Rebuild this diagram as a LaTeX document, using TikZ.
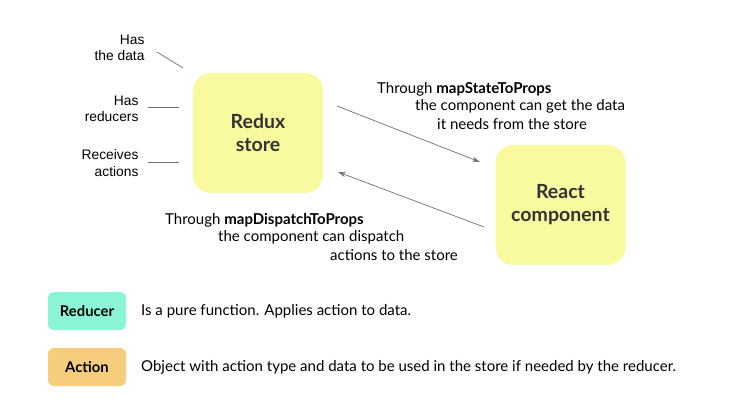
\documentclass[tikz,border=0pt]{standalone}
\usepackage{fontspec}
\setmainfont{Lato}
\newfontfamily\arialf{Liberation Sans}
\usetikzlibrary{arrows.meta}
\definecolor{storeyellow}{HTML}{F9F9A0}
\definecolor{mint}{HTML}{8CF4D6}
\definecolor{amber}{HTML}{F5CD7C}
\definecolor{txt}{HTML}{333333}
\definecolor{linegray}{HTML}{707070}
\tikzset{
  x=1pt, y=-1pt,
  bigbox/.style={fill=storeyellow, rounded corners=18pt, minimum width=130pt, minimum height=120pt, align=center, font=\fontsize{19.5}{23}\selectfont\bfseries, text=txt},
  legendbox/.style={rounded corners=6pt, minimum width=78pt, minimum height=38pt, font=\fontsize{14.8}{16}\selectfont\bfseries, text=black},
  sidelabel/.style={align=right, anchor=east, font=\arialf\fontsize{13.8}{16.5}\selectfont, text=black},
  note/.style={anchor=west, font=\fontsize{15}{17.5}\selectfont, text=black, inner sep=0pt},
  leglabel/.style={anchor=west, font=\fontsize{15}{16}\selectfont, text=black, inner sep=0pt},
  tick/.style={draw=linegray, line width=0.7pt},
  flow/.style={draw=linegray, line width=0.7pt, -{Stealth[length=8pt,width=5pt]}}
}
\begin{document}
\begin{tikzpicture}
\useasboundingbox (0,0) rectangle (738,411);
\fill[white] (0,0) rectangle (738,411);
\node[bigbox] (store) at (258,133) {Redux\\store};
\node[bigbox] (react) at (560.5,205) {React\\component};
% side labels
\node[sidelabel] (data) at (148,48) {Has\\the data};
\node[sidelabel] (red) at (142,109) {Has\\reducers};
\node[sidelabel] (act) at (142,163) {Receives\\actions};
\coordinate (d1) at (157,52); \coordinate (d2) at (183,68);
\coordinate (r1) at (148,107); \coordinate (r2) at (179,107);
\coordinate (a1) at (148,162); \coordinate (a2) at (179,162);
\draw[tick] (d1) -- (d2);
\draw[tick] (r1) -- (r2);
\draw[tick] (a1) -- (a2);
% arrows
\coordinate (s1) at (337,106); \coordinate (s2) at (480,162);
\coordinate (t1) at (484,227); \coordinate (t2) at (338,172);
\draw[flow] (s1) -- (s2);
\draw[flow] (t1) -- (t2);
% notes
\node[note] (n1) at (377,89) {Through \textbf{mapStateToProps}};
\node[note] (n2) at (415,106) {the component can get the data};
\node[note] (n3) at (437,124) {it needs from the store};
\node[note] (m1) at (165,220) {Through \textbf{mapDispatchToProps}};
\node[note] (m2) at (218,237) {the component can dispatch};
\node[note] (m3) at (330,255) {actions to the store};
% legend
\node[legendbox, fill=mint] (lr) at (87,311) {Reducer};
\node[leglabel] (lrt) at (141,311) {Is a pure function. Applies action to data.};
\node[legendbox, fill=amber] (la) at (87,367) {Action};
\node[leglabel] (lat) at (141,367) {Object with action type and data to be used in the store if needed by the reducer.};
\end{tikzpicture}
\end{document}
